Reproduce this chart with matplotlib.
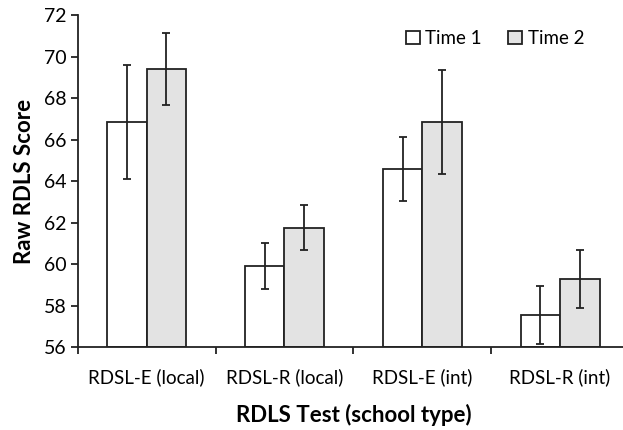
import matplotlib
matplotlib.use("Agg")
import matplotlib.pyplot as plt
import numpy as np

categories = ["RDSL-E (local)", "RDSL-R (local)", "RDSL-E (int)", "RDSL-R (int)"]
time1 = [66.87, 59.91, 64.57, 57.56]
time1_err = [2.75, 1.10, 1.55, 1.40]
time2 = [69.41, 61.76, 66.85, 59.28]
time2_err = [1.74, 1.10, 2.52, 1.40]
series_names = ["Time 1", "Time 2"]
y_ticks = [56, 58, 60, 62, 64, 66, 68, 70, 72]

plt.rcParams['font.family'] = ['Lato', 'DejaVu Sans']

fig = plt.figure(figsize=(6.23, 4.30), dpi=100)
ax = fig.add_axes([0.1247, 0.193, 0.885, 0.7714])

x = np.arange(len(categories))
w = 0.286
edge = '#222222'
ax.bar(x - w/2, np.array(time1) - 56, w, bottom=56, color='white', edgecolor=edge, linewidth=1.3, label=series_names[0], zorder=2)
ax.bar(x + w/2, np.array(time2) - 56, w, bottom=56, color='#e3e3e3', edgecolor=edge, linewidth=1.3, label=series_names[1], zorder=2)
ax.errorbar(x - w/2, time1, yerr=time1_err, fmt='none', ecolor=edge, elinewidth=1.3, capsize=3, capthick=1.3, zorder=3)
ax.errorbar(x + w/2, time2, yerr=time2_err, fmt='none', ecolor=edge, elinewidth=1.3, capsize=3, capthick=1.3, zorder=3)

ax.set_xlim(-0.5, len(categories) - 0.5)
ax.set_ylim(56, 72)
ax.set_yticks(y_ticks)
ax.set_yticklabels([str(t) for t in y_ticks], fontsize=14)
ax.set_xticks(x)
ax.set_xticklabels(categories, fontsize=13.5)
ax.tick_params(axis='x', length=0, pad=15)
ax.set_xticks(np.arange(len(categories) + 1) - 0.5, minor=True)
ax.tick_params(axis='x', which='minor', length=5, width=1.3, direction='out', color=edge)
ax.tick_params(axis='y', length=5, width=1.3, direction='out', color=edge, pad=3)

for s in ['top', 'right']:
    ax.spines[s].set_visible(False)
for s in ['left', 'bottom']:
    ax.spines[s].set_linewidth(1.3)
    ax.spines[s].set_color(edge)

ax.set_ylabel("Raw RDLS Score", fontsize=16, fontweight='bold', labelpad=6)
ax.set_xlabel("RDLS Test (school type)", fontsize=16, fontweight='bold', labelpad=13)

fig.legend(loc='upper right', bbox_to_anchor=(0.938, 0.93), ncol=2, frameon=False, fontsize=13.5,
           handlelength=0.75, handleheight=0.75, handletextpad=0.3, columnspacing=1.4,
           borderaxespad=0, borderpad=0)

fig.savefig("out.png", dpi=100)
